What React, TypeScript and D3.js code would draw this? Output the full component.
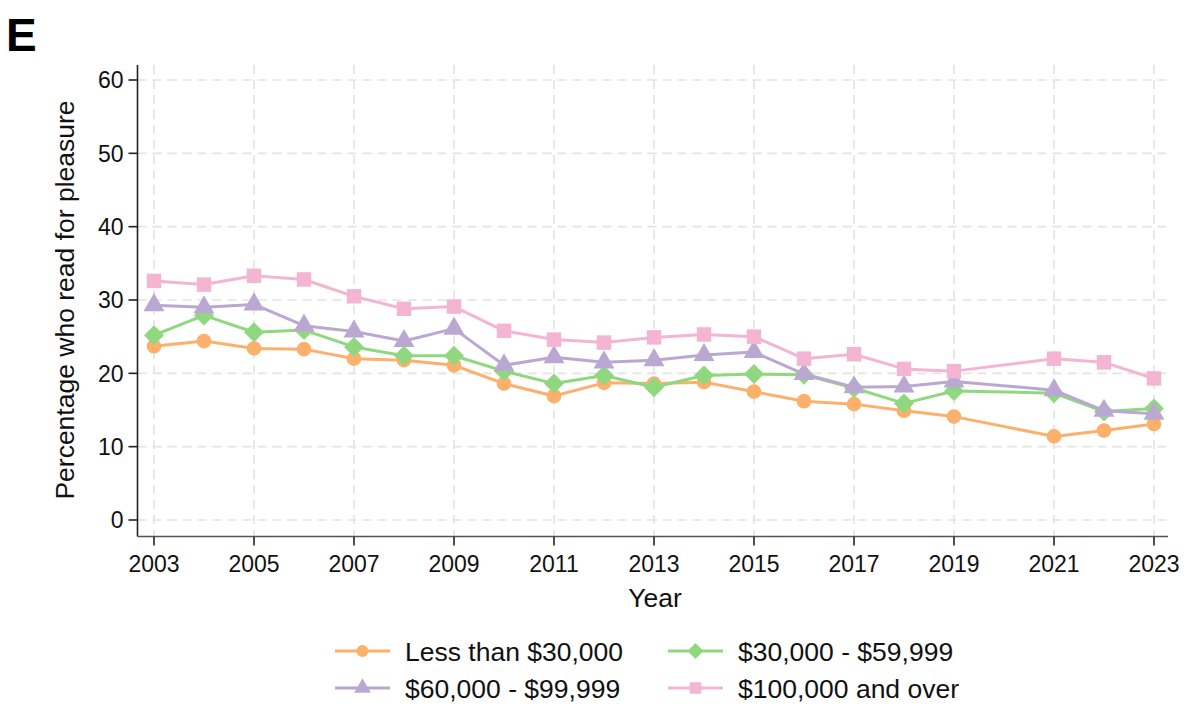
import React from "react";
import * as d3 from "d3";

const years = [2003, 2004, 2005, 2006, 2007, 2008, 2009, 2010, 2011, 2012, 2013, 2014, 2015, 2016, 2017, 2018, 2019, 2021, 2022, 2023];
const lessThan30k = [23.7, 24.4, 23.4, 23.3, 22.0, 21.8, 21.1, 18.6, 16.9, 18.7, 18.6, 18.8, 17.5, 16.2, 15.8, 14.9, 14.1, 11.4, 12.2, 13.1];
const from30to60k = [25.2, 27.9, 25.6, 25.9, 23.6, 22.4, 22.4, 20.3, 18.6, 19.7, 18.1, 19.7, 19.9, 19.8, 18.0, 15.9, 17.6, 17.3, 14.8, 15.2];
const from60to100k = [29.3, 29.0, 29.4, 26.5, 25.7, 24.4, 26.1, 21.1, 22.2, 21.5, 21.8, 22.5, 22.9, 19.9, 18.1, 18.2, 18.9, 17.7, 14.9, 14.5];
const over100k = [32.6, 32.1, 33.3, 32.8, 30.5, 28.8, 29.1, 25.8, 24.6, 24.2, 24.9, 25.3, 25.0, 22.0, 22.6, 20.6, 20.3, 22.0, 21.5, 19.3];
const xTicks = [2003, 2005, 2007, 2009, 2011, 2013, 2015, 2017, 2019, 2021, 2023];
const yTicks = [0, 10, 20, 30, 40, 50, 60];

const seriesNames = ["Less than $30,000", "$30,000 - $59,999", "$60,000 - $99,999", "$100,000 and over"];
const seriesValues = [lessThan30k, from30to60k, from60to100k, over100k];
const colors = ["#fdb06b", "#8fd87f", "#bba8d2", "#f4b5d2"];
const shapes = ["circle", "diamond", "triangle", "square"];

const FONT = "'Liberation Sans', Arial, sans-serif";

function markerPath(shape: string, scale = 1): string {
  if (shape === "circle") return d3.symbol(d3.symbolCircle, 170 * scale * scale)() as string;
  if (shape === "square") return d3.symbol(d3.symbolSquare, 210 * scale * scale)() as string;
  if (shape === "triangle") return d3.symbol(d3.symbolTriangle, 190 * scale * scale)() as string;
  const r = 10 * scale;
  return `M0,${-r}L${r},0L0,${r}L${-r},0Z`;
}

export default function App() {
  const W = 1200, H = 721;
  const x = d3.scaleLinear().domain([2003, 2023]).range([154, 1154]);
  const y = d3.scaleLinear().domain([0, 60]).range([520, 80]);
  const axisX = 137.5, axisY = 536.5, axisRight = 1168, axisTop = 65;

  const line = d3.line<number>().x((_, i) => x(years[i])).y((v) => y(v));

  const legendItems = [
    { i: 0, lx: 335, ly: 651 },
    { i: 1, lx: 668, ly: 651 },
    { i: 2, lx: 335, ly: 688 },
    { i: 3, lx: 668, ly: 688 },
  ];

  return (
    <svg width={W} height={H} style={{ display: "block", position: "absolute", left: 0, top: 0, background: "#fff" }} fontFamily={FONT}>
      <rect x={0} y={0} width={W} height={H} fill="#fff" />
      <text x={6} y={51} fontSize={46} fontWeight="bold" fill="#000">E</text>

      {yTicks.map((t) => (
        <line key={"gy" + t} x1={axisX} x2={axisRight} y1={y(t)} y2={y(t)} stroke="#e3e3e3" strokeWidth={1.6} strokeDasharray="9,6" />
      ))}
      {xTicks.map((t) => (
        <line key={"gx" + t} x1={x(t)} x2={x(t)} y1={axisTop} y2={axisY} stroke="#e3e3e3" strokeWidth={1.6} strokeDasharray="9,6" />
      ))}

      <line x1={axisX} x2={axisX} y1={axisTop} y2={axisY} stroke="#222" strokeWidth={1.6} />
      <line x1={axisX} x2={axisRight} y1={axisY} y2={axisY} stroke="#555" strokeWidth={1.6} />
      {yTicks.map((t) => (
        <g key={"ty" + t}>
          <line x1={axisX - 9} x2={axisX} y1={y(t)} y2={y(t)} stroke="#222" strokeWidth={1.6} />
          <text x={axisX - 14} y={y(t)} dy="0.36em" textAnchor="end" fontSize={23} fill="#111">{t}</text>
        </g>
      ))}
      {xTicks.map((t) => (
        <g key={"tx" + t}>
          <line x1={x(t)} x2={x(t)} y1={axisY} y2={axisY + 9} stroke="#222" strokeWidth={1.6} />
          <text x={x(t)} y={axisY + 35} textAnchor="middle" fontSize={23} fill="#111">{t}</text>
        </g>
      ))}
      <text x={655} y={607} textAnchor="middle" fontSize={26.5} fill="#111">Year</text>
      <text transform={`translate(74,${(y(0) + y(60)) / 2}) rotate(-90)`} textAnchor="middle" fontSize={26.5} fill="#111">Percentage who read for pleasure</text>

      {seriesValues.map((vals, i) => (
        <g key={"s" + i}>
          <path d={line(vals) as string} fill="none" stroke={colors[i]} strokeWidth={3} strokeLinejoin="round" />
          {vals.map((v, j) => (
            <path key={j} d={markerPath(shapes[i])} transform={`translate(${x(years[j])},${y(v)})`} fill={colors[i]} />
          ))}
        </g>
      ))}

      {legendItems.map(({ i, lx, ly }) => (
        <g key={"l" + i}>
          <line x1={lx} x2={lx + 55} y1={ly} y2={ly} stroke={colors[i]} strokeWidth={3} />
          <path d={markerPath(shapes[i], 0.8)} transform={`translate(${lx + 27.5},${ly})`} fill={colors[i]} />
          <text x={lx + 70} y={ly} dy="0.36em" fontSize={26.5} fill="#111">{seriesNames[i]}</text>
        </g>
      ))}
    </svg>
  );
}
